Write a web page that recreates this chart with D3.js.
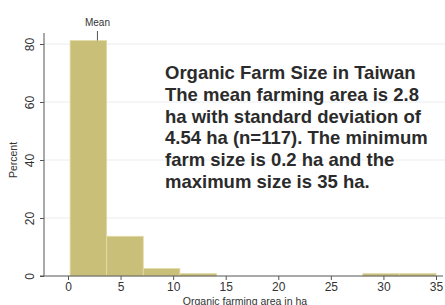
<!DOCTYPE html>
<html>
<head>
<meta charset="utf-8">
<script src="https://cdn.jsdelivr.net/npm/d3@7"></script>
<style>
  body { margin: 0; background: #fff; }
  svg { display: block; font-family: "Liberation Sans", Arial, sans-serif; }
</style>
</head>
<body>
<div id="viz"></div>
<script>
// histogram bins (ha) and percent of farms
const binEdges = [0.2, 3.68, 7.16, 10.64, 14.12, 17.6, 21.08, 24.56, 28.04, 31.52, 35];
const percents = [81.2, 13.7, 2.56, 0.85, 0, 0, 0, 0, 0.85, 0.85];
const xTicks = [0, 5, 10, 15, 20, 25, 30, 35];
const yTicks = [0, 20, 40, 60, 80];
const meanValue = 2.8;
const noteLines = [
  "Organic Farm Size in Taiwan",
  "The mean farming area is 2.8",
  "ha with standard deviation of",
  "4.54 ha (n=117). The minimum",
  "farm size is 0.2 ha and the",
  "maximum size is 35 ha."
];

const width = 445, height = 305;
const svg = d3.select("#viz").append("svg")
  .attr("width", width).attr("height", height);

const x = d3.scaleLinear().domain([0, 35]).range([68, 436]);
const y = d3.scaleLinear().domain([0, 80]).range([276, 44]);

// grid
svg.append("g").selectAll("line")
  .data(yTicks.filter(d => d > 0))
  .join("line")
  .attr("x1", 44).attr("x2", 445)
  .attr("y1", d => y(d)).attr("y2", d => y(d))
  .attr("stroke", "#eaecee").attr("stroke-width", 1);

// bars
const bins = percents.map((p, i) => ({ x0: binEdges[i], x1: binEdges[i + 1], p }));
svg.append("g").selectAll("rect")
  .data(bins.filter(d => d.p > 0))
  .join("rect")
  .attr("x", d => x(d.x0))
  .attr("width", d => x(d.x1) - x(d.x0))
  .attr("y", d => y(d.p))
  .attr("height", d => y(0) - y(d.p))
  .attr("fill", "#c9bf78")
  .attr("stroke", "#e2dcaa")
  .attr("stroke-width", 0.8);

// y axis
const yAxis = svg.append("g")
  .attr("transform", "translate(44,0)")
  .call(d3.axisLeft(y).tickValues(yTicks).tickSize(4));
yAxis.select(".domain").attr("d", `M0,${y(83.8)}V${y(0)}`).attr("stroke", "#555");
yAxis.selectAll(".tick line").attr("stroke", "#555");
yAxis.selectAll(".tick text")
  .attr("font-size", 12).attr("fill", "#333")
  .attr("transform", "translate(-14,0) rotate(-90)")
  .attr("x", 0).attr("y", 0).attr("dy", "0.35em")
  .attr("text-anchor", "middle");

// x axis
const xAxis = svg.append("g")
  .attr("transform", `translate(0,${y(0)})`)
  .call(d3.axisBottom(x).tickValues(xTicks).tickSize(4).tickPadding(2));
xAxis.select(".domain").attr("d", "M40,0H443").attr("stroke", "#555");
xAxis.selectAll(".tick line").attr("stroke", "#555");
xAxis.selectAll(".tick text").attr("font-size", 12).attr("fill", "#333");
svg.selectAll(".domain, .tick line").attr("stroke-width", 1);

// axis titles
svg.append("text")
  .attr("transform", `translate(13,${y(40)}) rotate(-90)`)
  .attr("text-anchor", "middle").attr("dy", "0.35em")
  .attr("font-size", 10.5).attr("fill", "#333")
  .text("Percent");
svg.append("text")
  .attr("x", 245).attr("y", 304.5)
  .attr("text-anchor", "middle")
  .attr("font-size", 10.5).attr("fill", "#333")
  .text("Organic farming area in ha");

// mean marker
svg.append("line")
  .attr("x1", x(meanValue)).attr("x2", x(meanValue))
  .attr("y1", 31).attr("y2", y(percents[0]))
  .attr("stroke", "#555").attr("stroke-width", 1);
svg.append("text")
  .attr("x", x(meanValue)).attr("y", 26)
  .attr("text-anchor", "middle")
  .attr("font-size", 10).attr("fill", "#333")
  .text("Mean");

// annotation
svg.append("g").selectAll("text")
  .data(noteLines)
  .join("text")
  .attr("x", 165)
  .attr("y", (d, i) => 79 + i * 21.8)
  .attr("font-size", 18.5).attr("font-weight", "bold")
  .attr("fill", "#2b2b2b")
  .text(d => d);
</script>
</body>
</html>
